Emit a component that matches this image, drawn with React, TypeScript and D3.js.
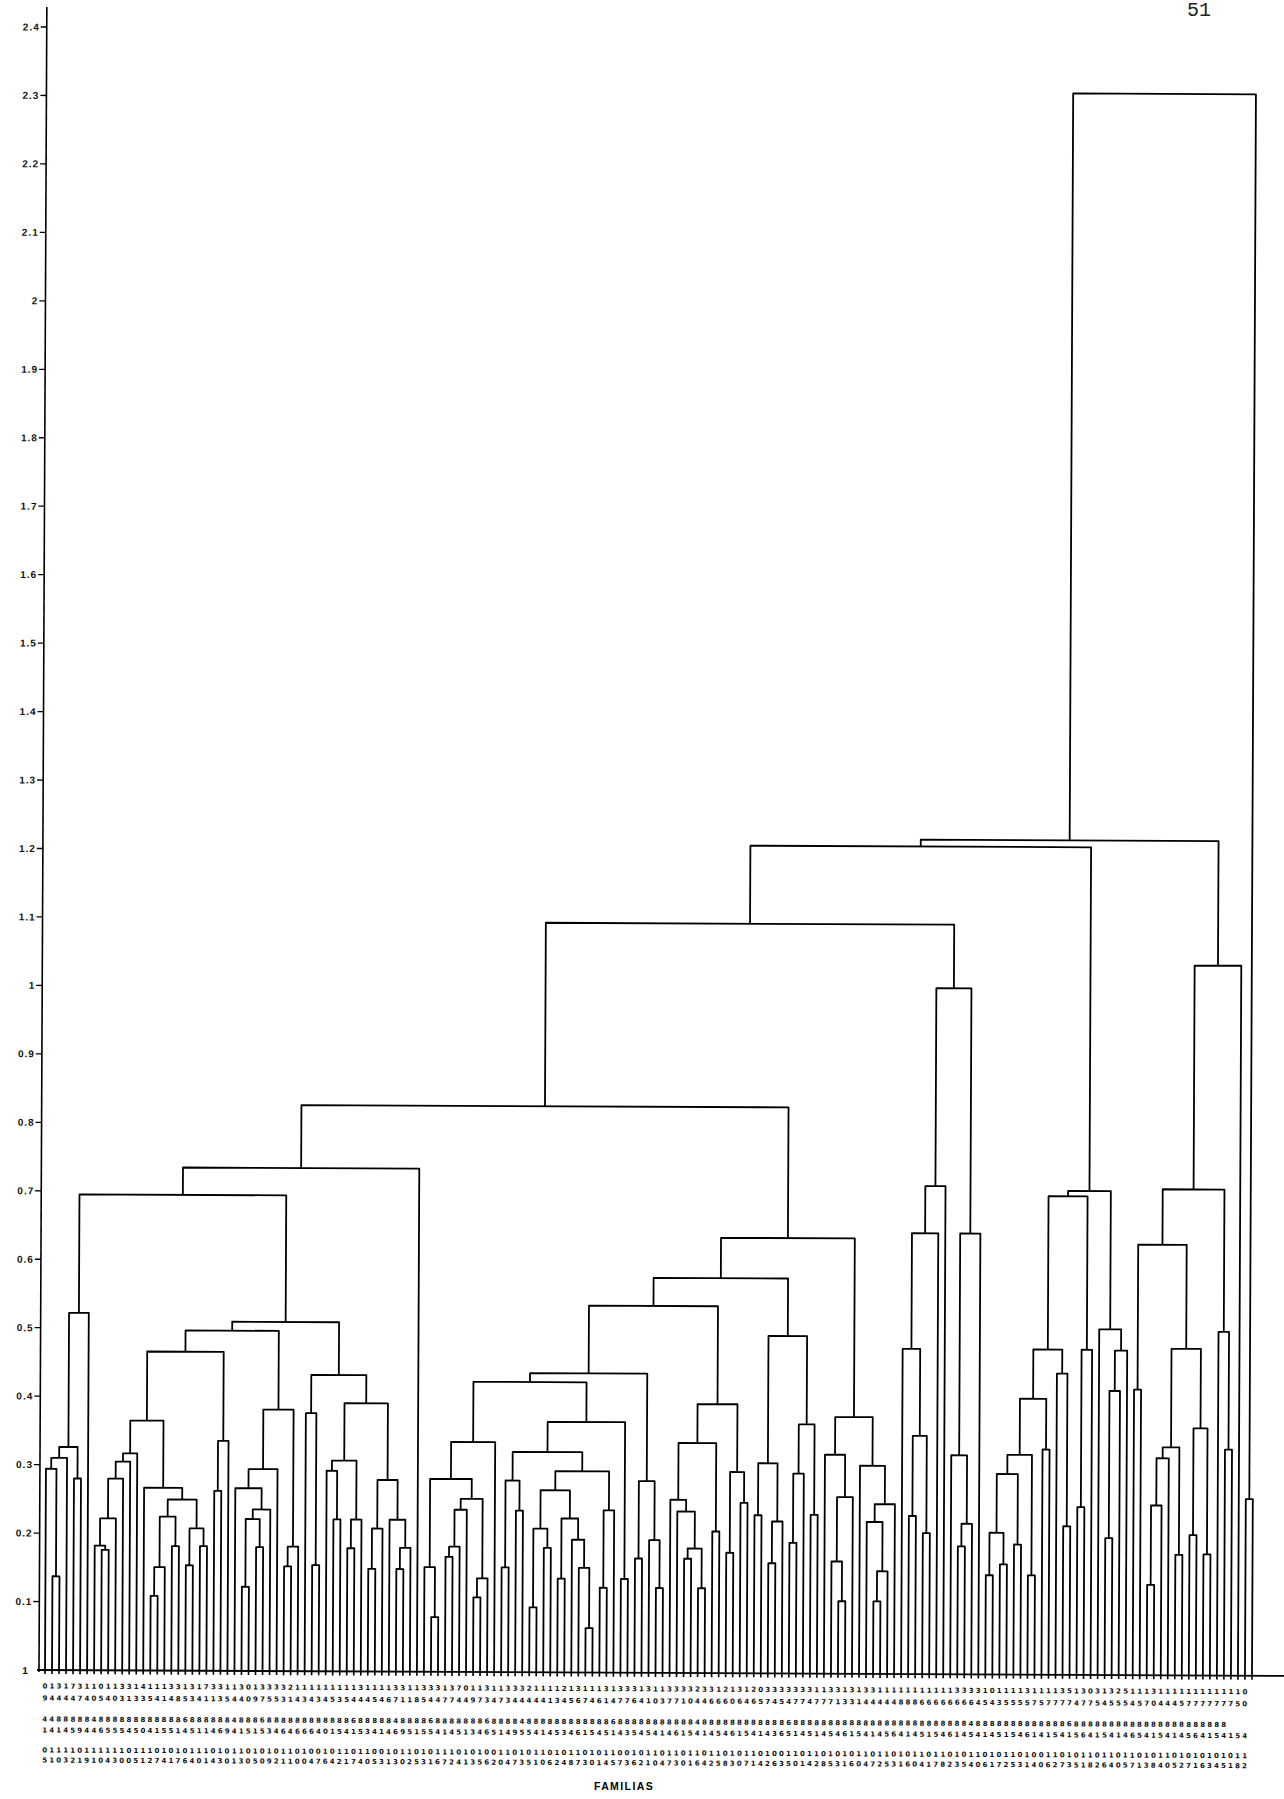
import React, { useEffect, useRef } from "react";
import * as d3 from "d3";

// dendrogram pieces, newick style: "*" is one familia, "(a,b)h" joins a and b at distance h
const G1 = "((((*,(*,*)0.137)0.294,*)0.31,(*,*)0.28)0.326,*)0.522";
const N317 = "(((((*,(*,*)0.176)0.182,*)0.222,*)0.28,*)0.305,*)0.317";
const N267 = "(*,((((*,*)0.109,*)0.151,(*,*)0.182)0.225,((*,*)0.154,(*,*)0.182)0.208)0.25)0.267";
const N466 = `((${N317},${N267})0.365,((*,*)0.263,*)0.336)0.466`;
const N295 = "((*,(((*,*)0.123,(*,*)0.181)0.222,*)0.236)0.267,*)0.295";
const N382 = `(${N295},((*,*)0.153,*)0.182)0.382`;
const N433 = "((*,(*,*)0.155)0.377,(((*,(*,*)0.222)0.293,((*,*)0.18,*)0.222)0.308,(((*,*)0.15,*)0.209,(*,((*,*)0.15,*)0.181)0.222)0.28)0.392)0.433";
const E = `((${G1},((${N466},${N382})0.497,${N433})0.51)0.695,*)0.735`;

const N336 = "(((*,(*,*)0.08)0.153,((((*,*)0.168,*)0.183,*)0.237,((*,*)0.109,*)0.137)0.253)0.282,*)0.336";
const N294 = "((((*,*)0.095,(*,*)0.182)0.21,((*,*)0.137,(*,(*,(*,*)0.065)0.153)0.194)0.225)0.266,((*,*)0.124,*)0.237)0.294";
const N366 = `((((*,*)0.153,(*,*)0.236)0.28,${N294})0.322,(*,*)0.137)0.366`;
const N438 = `((${N336},${N366})0.424,((*,*)0.167,(*,(*,*)0.124)0.194)0.28)0.437`;
const N393 = "(((*,(*,((*,*)0.167,(*,*)0.124)0.182)0.236)0.253,(*,*)0.207)0.336,((*,*)0.176,(*,*)0.249)0.294)0.393";
const N493 = "(((*,*)0.231,((*,*)0.161,*)0.222)0.307,(((*,*)0.191,*)0.292,(*,*)0.232)0.364)0.493";
const N375 = "((*,((*,(*,*)0.106)0.164,*)0.258)0.32,(*,((*,((*,*)0.106,*)0.15)0.222,*)0.248)0.304)0.375";
const N636 = `(((${N438},${N393})0.536,${N493})0.577,${N375})0.636`;
const D = `(${E},${N636})0.827`;

const N1002 = "((((*,((*,*)0.231,(*,*)0.206)0.348)0.475,*)0.644,*)0.713,((*,((*,*)0.187,*)0.22)0.32,*)0.644)1.002";
const C = `(${D},${N1002})1.095`;

const N475 = "((((((*,*)0.145,(*,*)0.161)0.207,(*,*)0.19)0.293,(*,*)0.145)0.321,(*,*)0.329)0.403,(*,(*,*)0.217)0.44)0.475";
const N699 = `(${N475},((*,*)0.245,*)0.475)0.699`;
const N505 = "(*,(((*,*)0.2,*)0.415,*)0.474)0.505";
const B = `(${C},(${N699},${N505})0.707)1.209`;

const N477 = "(((((*,*)0.132,*)0.248,*)0.317,(*,*)0.176)0.333,((*,*)0.205,(*,*)0.177)0.361)0.477";
const N1037 = `((((*,*)0.417,${N477})0.629,(*,(*,*)0.33)0.502)0.71,*)1.037`;
const TREE = `((${B},${N1037})1.219,(*,*)0.258)2.31`;

const tickValues = [2.4, 2.3, 2.2, 2.1, 2, 1.9, 1.8, 1.7, 1.6, 1.5, 1.4, 1.3, 1.2, 1.1, 1, 0.9, 0.8, 0.7, 0.6, 0.5, 0.4, 0.3, 0.2, 0.1];
const tickLabels = ["2.4", "2.3", "2.2", "2.1", "2", "1.9", "1.8", "1.7", "1.6", "1.5", "1.4", "1.3", "1.2", "1.1", "1", "0.9", "0.8", "0.7", "0.6", "0.5", "0.4", "0.3", "0.2", "0.1"];
const zeroLabel = "1";

// familia codes under each leaf, six rows
const codeRow1 = "0131731101133141113313173311301333321111111113111133113331370113113332111121311131333131133332331213120333333311331313311111111111333310111131111351303132511131111111111110";
const codeRow2 = "9444474054031335414853411354409755314343453544454671185447744973473444441345674614776410377104466606465745477477713314444488866666666454355557577774775455545704445777777750";
const codeRow3 = "4488888488888888888868888884888688888888888868888848888688888886888848888888888886888888888884888888888888688888888888888888888888884888888888888868888888888888888888888";
const codeRow4 = "1414594465554504155145114694151534646664015415341469515541451346514955414534615451435454146154145461541436514514546154145641451546145414515461415415641541465415414564154154";
const codeRow5 = "0111101111110111010101110101101010110100101101100101101011101010011010110101101011001011011011011010110100110110101011011010110110101101011010011010110110110101101010101011";
const codeRow6 = "5103219104300512741764014301305092110047642174053130253167241356204735106248730145736210473016425830714263501428531604725316041782354061725314062735182640571384052716345182";
const codeRows = [codeRow1, codeRow2, codeRow3, codeRow4, codeRow5, codeRow6];
const codeRowY = [1686, 1698, 1719, 1730, 1750, 1760];

const xTitle = "FAMILIAS";
const pageNumber = "51";

const W = 1284;
const H = 1799;
const BASE_Y = 1670;
const AXIS_X = 39;
const TILT = 0.27; // the page was scanned slightly rotated

type TNode = { h: number; children?: TNode[] };

function parseTree(s: string): TNode {
  let i = 0;
  const node = (): TNode => {
    if (s[i] === "*") {
      i++;
      return { h: 0 };
    }
    i++; // (
    const a = node();
    i++; // ,
    const b = node();
    i++; // )
    let j = i;
    while (j < s.length && /[0-9.]/.test(s[j])) j++;
    const h = +s.slice(i, j);
    i = j;
    return { h, children: [a, b] };
  };
  return node();
}

const Dendrogram = () => {
  const ref = useRef<SVGSVGElement>(null);

  const draw = (elt: SVGSVGElement) => {
    const svg = d3.select(elt);
    svg.selectAll("*").remove();

    svg.append("rect").attr("width", W).attr("height", H).attr("fill", "#fff");

    const root = d3.hierarchy<TNode>(parseTree(TREE));
    const leaves = root.leaves();
    console.log("leaves", leaves.length);

    const x = d3.scaleLinear().domain([0, leaves.length - 1]).range([45, 1252]);
    const y = d3.scaleLinear().domain([0, 2.4]).range([BASE_Y, 27]);

    const px = new Map<any, number>();
    leaves.forEach((d, i) => px.set(d, x(i)));
    root.eachAfter((d) => {
      if (d.children) px.set(d, d3.mean(d.children, (c) => px.get(c)!)!);
    });

    const g = svg.append("g").attr("transform", `rotate(${TILT} ${AXIS_X} ${BASE_Y})`);

    // y axis
    g.append("line")
      .attr("x1", AXIS_X).attr("x2", AXIS_X)
      .attr("y1", 7).attr("y2", BASE_Y + 2)
      .attr("stroke", "#000").attr("stroke-width", 1.6);

    const ticks = g.append("g");
    ticks.selectAll("line")
      .data(tickValues)
      .join("line")
      .attr("x1", AXIS_X - 6).attr("x2", AXIS_X)
      .attr("y1", (d) => y(d)).attr("y2", (d) => y(d))
      .attr("stroke", "#000").attr("stroke-width", 1.3);
    ticks.selectAll("text")
      .data(tickValues)
      .join("text")
      .attr("x", AXIS_X - 7)
      .attr("y", (d) => y(d) + 3.5)
      .attr("text-anchor", "end")
      .attr("font-family", "Liberation Sans, Arial, sans-serif")
      .attr("font-size", 10)
      .attr("font-weight", "bold")
      .attr("letter-spacing", 1)
      .attr("fill", "#111")
      .text((d, i) => tickLabels[i]);
    g.append("text")
      .attr("x", 25).attr("y", y(0) + 4)
      .attr("text-anchor", "middle")
      .attr("font-family", "Liberation Sans, Arial, sans-serif")
      .attr("font-size", 10).attr("font-weight", "bold")
      .text(zeroLabel);

    // baseline
    g.append("line")
      .attr("x1", AXIS_X - 2).attr("x2", W + 10)
      .attr("y1", BASE_Y).attr("y2", BASE_Y)
      .attr("stroke", "#000").attr("stroke-width", 1.8);

    // joins
    g.append("g")
      .attr("fill", "none").attr("stroke", "#000")
      .attr("stroke-width", 1.8).attr("stroke-linejoin", "round")
      .selectAll("path")
      .data(root.descendants().filter((d) => d.children))
      .join("path")
      .attr("d", (d) => {
        const [a, b] = d.children!;
        return `M${px.get(a)},${y(a.data.h)}V${y(d.data.h)}H${px.get(b)}V${y(b.data.h)}`;
      });

    // leaf ticks under the baseline
    g.append("g")
      .selectAll("line")
      .data(leaves)
      .join("line")
      .attr("x1", (d) => px.get(d)!).attr("x2", (d) => px.get(d)!)
      .attr("y1", BASE_Y).attr("y2", BASE_Y + 4)
      .attr("stroke", "#000").attr("stroke-width", 1.6);

    // familia codes
    const codes = g.append("g")
      .attr("font-family", "DejaVu Sans, sans-serif")
      .attr("font-size", 7)
      .attr("font-weight", "bold")
      .attr("text-anchor", "middle")
      .attr("fill", "#111");
    codeRows.forEach((row, r) => {
      codes.append("g")
        .selectAll("text")
        .data(leaves)
        .join("text")
        .attr("x", (d) => px.get(d)!)
        .attr("y", codeRowY[r] + 2.5)
        .text((d, i) => row[i] ?? "");
    });

    svg.append("text")
      .attr("x", 624).attr("y", 1790)
      .attr("text-anchor", "middle")
      .attr("font-family", "Liberation Sans, Arial, sans-serif")
      .attr("font-size", 10.5).attr("font-weight", "bold")
      .attr("letter-spacing", 1.4)
      .text(xTitle);

    svg.append("text")
      .attr("x", 1187).attr("y", 16)
      .attr("font-family", "Liberation Mono, Courier New, monospace")
      .attr("font-size", 20)
      .attr("fill", "#222")
      .text(pageNumber);
  };

  useEffect(() => {
    if (ref.current) draw(ref.current);
  }, []);

  return (
    <svg
      ref={ref}
      width={W}
      height={H}
      style={{ position: "absolute", left: 0, top: 0, display: "block" }}
    />
  );
};

export default function App() {
  return <Dendrogram />;
}
